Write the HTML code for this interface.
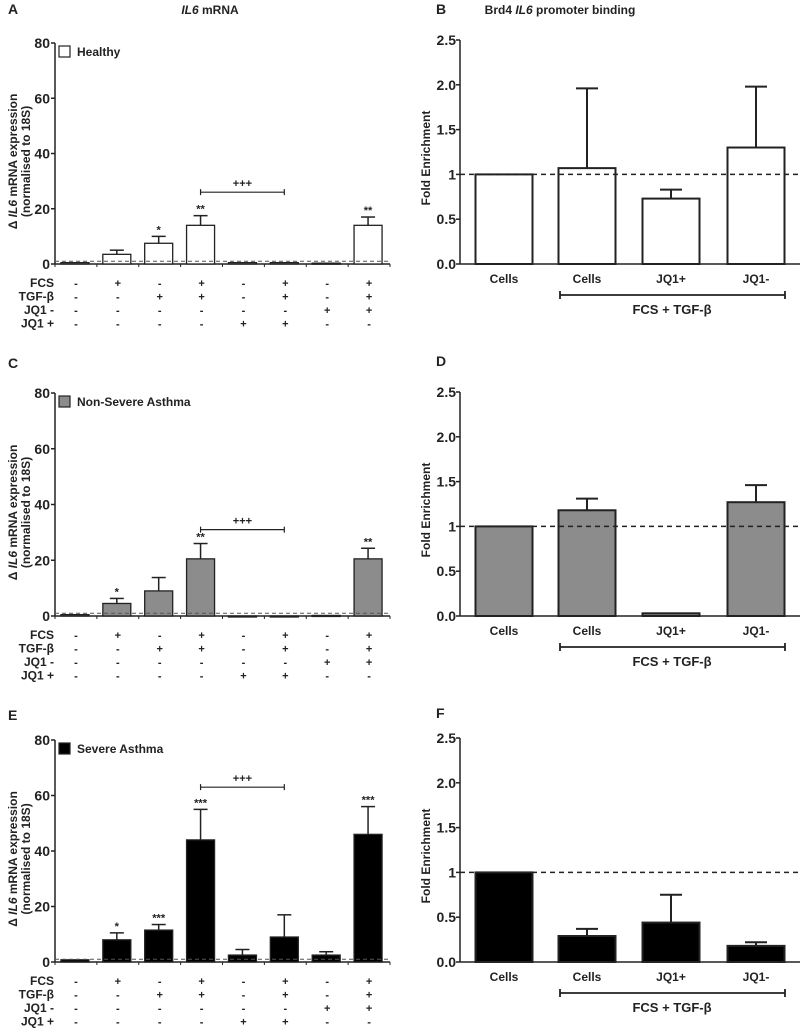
<!DOCTYPE html>
<html><head><meta charset="utf-8"><style>
html,body{margin:0;padding:0;background:#fff;}
svg{display:block;font-family:"Liberation Sans",Arial,sans-serif;}
text{font-weight:bold;fill:#222;}
</style></head><body>
<svg id="fig" width="800" height="1029" viewBox="0 0 800 1029" xmlns="http://www.w3.org/2000/svg"></svg>
<script>
// ---- data ----
const mrnaCategories = ["1","2","3","4","5","6","7","8"];
const healthyValues = [0.5, 3.5, 7.5, 14, 0.5, 0.5, 0.3, 14];
const healthyErrors = [0, 1.5, 2.5, 3.5, 0, 0, 0, 3];
const healthyStars = ["", "", "*", "**", "", "", "", "**"];
const nonSevereValues = [0.5, 4.5, 9, 20.5, 0, 0, 0.2, 20.5];
const nonSevereErrors = [0, 1.8, 4.8, 5.5, 0, 0, 0, 3.8];
const nonSevereStars = ["", "*", "", "**", "", "", "", "**"];
const severeValues = [0.8, 8, 11.5, 44, 2.5, 9, 2.5, 46];
const severeErrors = [0, 2.5, 2, 11, 2, 8, 1.2, 10];
const severeStars = ["", "*", "***", "***", "", "", "", "***"];
const bracketLevels = [26, 31, 63];
const mrnaTicks = [0, 20, 40, 60, 80];
const rowLabels = ["FCS", "TGF-β", "JQ1 -", "JQ1 +"];
const rowSigns = [
  ["-","+","-","+","-","+","-","+"],
  ["-","-","+","+","-","+","-","+"],
  ["-","-","-","-","-","-","+","+"],
  ["-","-","-","-","+","+","-","-"]
];
const chipCategories = ["Cells", "Cells", "JQ1+", "JQ1-"];
const chipHealthy = [1, 1.07, 0.73, 1.3];
const chipHealthyErr = [0, 0.89, 0.1, 0.68];
const chipNonSevere = [1, 1.18, 0.03, 1.27];
const chipNonSevereErr = [0, 0.13, 0, 0.19];
const chipSevere = [1, 0.29, 0.44, 0.18];
const chipSevereErr = [0, 0.08, 0.31, 0.04];
const chipTicks = [0, 0.5, 1, 1.5, 2, 2.5];
const chipTickLabels = ["0.0", "0.5", "1", "1.5", "2.0", "2.5"];

const NS = "http://www.w3.org/2000/svg";
const svg = document.getElementById("fig");
function el(tag, attrs, parent, txt) {
  const e = document.createElementNS(NS, tag);
  for (const k in attrs) e.setAttribute(k, attrs[k]);
  if (txt !== undefined) e.textContent = txt;
  (parent || svg).appendChild(e);
  return e;
}

[["A",8,14],["B",436,14],["C",8,368],["D",436,366],["E",8,720],["F",436,718]].forEach(p => {
  const t = el("text", {x:p[1], y:p[2], "font-size":"14"}, svg, p[0]);
  
  
});
const t1 = el("text", {x:210, y:14, "font-size":"12", "text-anchor":"middle", "font-weight":"normal"});


el("tspan", {"font-style":"italic"}, t1, "IL6");
el("tspan", {}, t1, " mRNA");
const t2 = el("text", {x:560, y:14, "font-size":"12", "text-anchor":"middle", "font-weight":"normal"});


el("tspan", {}, t2, "Brd4 ");
el("tspan", {"font-style":"italic"}, t2, "IL6");
el("tspan", {}, t2, " promoter binding");

function mrnaPanel(cfg) {
  const g = el("g", {});
  
  
  const x0 = 55, x1 = 390, yTop = cfg.yTop, yBot = cfg.yBot;
  const y = v => yBot - (v / 80) * (yBot - yTop);
  const step = (x1 - x0) / 8;
  const xc = i => x0 + step * (i + 0.5) - 1;
  const bw = 28;
  el("line", {x1:x0, y1:yTop, x2:x0, y2:yBot, stroke:"#222", "stroke-width":1.5}, g);
  el("line", {x1:x0, y1:yBot, x2:x1, y2:yBot, stroke:"#222", "stroke-width":1.5}, g);
  mrnaTicks.forEach(tv => {
    el("line", {x1:x0-4, y1:y(tv), x2:x0, y2:y(tv), stroke:"#222", "stroke-width":1.5}, g);
    const t = el("text", {x:x0-5, y:y(tv)+5, "font-size":"14", "text-anchor":"end"}, g, String(tv));
    
    
  });
  for (let i = 0; i <= 8; i++) {
    el("line", {x1:x0+step*i, y1:yBot, x2:x0+step*i, y2:yBot+3, stroke:"#222", "stroke-width":1}, g);
  }
  const yt = el("text", {transform:`translate(17,${(yTop+yBot)/2+8}) rotate(-90)`, "font-size":"12", "text-anchor":"middle"}, g);
  
  
  el("tspan", {}, yt, "Δ ");
  el("tspan", {"font-style":"italic"}, yt, "IL6");
  el("tspan", {}, yt, " mRNA expression");
  const yt2 = el("text", {transform:`translate(30,${(yTop+yBot)/2+8}) rotate(-90)`, "font-size":"12", "text-anchor":"middle"}, g, "(normalised to 18S)");
  
  
  const lb = el("rect", {x:59, y:yTop+3, width:11, height:11, fill:cfg.fill, stroke:"#222", "stroke-width":1.2}, g);
  
  
  const lt = el("text", {x:77, y:yTop+13, "font-size":"12"}, g, cfg.legend);
  
  
  cfg.values.forEach((v, i) => {
    const yv = y(v), e = cfg.errors[i];
    if (e > 0) {
      const ye = y(v + e);
      el("line", {x1:xc(i), y1:yv, x2:xc(i), y2:ye, stroke:"#222", "stroke-width":1.5}, g);
      el("line", {x1:xc(i)-7, y1:ye, x2:xc(i)+7, y2:ye, stroke:"#222", "stroke-width":1.5}, g);
    }
    const r = el("rect", {x:xc(i)-bw/2, y:yv, width:bw, height:Math.max(yBot-yv,1), fill:cfg.fill, stroke:"#222", "stroke-width":1.3}, g);
    
    
    if (cfg.stars[i]) {
      const s = el("text", {x:xc(i), y:y(v+e)-3, "font-size":"11", "text-anchor":"middle", "font-weight":"normal"}, g, cfg.stars[i]);
      
      
    }
  });
  el("line", {x1:x0, y1:y(1), x2:x1, y2:y(1), stroke:"#555", "stroke-width":1, "stroke-dasharray":"4,3"}, g);
  const by = y(cfg.bracket);
  const br = el("path", {d:`M${xc(3)},${by-3}V${by+3}M${xc(3)},${by}H${xc(5)}M${xc(5)},${by-3}V${by+3}`, stroke:"#222", "stroke-width":1.2, fill:"none"}, g);
  
  
  const bt = el("text", {x:(xc(3)+xc(5))/2, y:by-5, "font-size":"11", "text-anchor":"middle"}, g, "+++");
  
  
  rowLabels.forEach((lab, r) => {
    const ry = cfg.rowY + r * 13.5;
    const t = el("text", {x:54, y:ry+4, "font-size":"12", "text-anchor":"end"}, g, lab);
    
    
    rowSigns[r].forEach((s, i) => {
      const st = el("text", {x:xc(i)+1, y:ry+4, "font-size":"11", "text-anchor":"middle"}, g, s);
      
      
    });
  });
}

function chipPanel(cfg) {
  const g = el("g", {});
  
  
  const x0 = 460, x1 = 800, yTop = cfg.yTop, yBot = cfg.yBot;
  const y = v => yBot - (v / 2.5) * (yBot - yTop);
  const centers = [504, 587, 671, 756];
  const bw = 57;
  el("line", {x1:x0, y1:yTop, x2:x0, y2:yBot, stroke:"#222", "stroke-width":1.5}, g);
  el("line", {x1:x0, y1:yBot, x2:x1, y2:yBot, stroke:"#222", "stroke-width":1.5}, g);
  chipTicks.forEach((tv, k) => {
    el("line", {x1:x0-4, y1:y(tv), x2:x0, y2:y(tv), stroke:"#222", "stroke-width":1.5}, g);
    const t = el("text", {x:x0-4, y:y(tv)+5, "font-size":"14", "text-anchor":"end"}, g, chipTickLabels[k]);
    
    
  });
  const yt = el("text", {transform:`translate(430,${(yTop+yBot)/2+6}) rotate(-90)`, "font-size":"12", "text-anchor":"middle"}, g, "Fold Enrichment");
  
  
  cfg.values.forEach((v, i) => {
    const yv = y(v), e = cfg.errors[i];
    if (e > 0) {
      const ye = y(v + e);
      el("line", {x1:centers[i], y1:yv, x2:centers[i], y2:ye, stroke:"#222", "stroke-width":2}, g);
      el("line", {x1:centers[i]-11, y1:ye, x2:centers[i]+11, y2:ye, stroke:"#222", "stroke-width":2}, g);
    }
    const r = el("rect", {x:centers[i]-bw/2, y:yv, width:bw, height:Math.max(yBot-yv,1.5), fill:cfg.fill, stroke:"#222", "stroke-width":2}, g);
    
    
    const t = el("text", {x:centers[i], y:yBot+19, "font-size":"12", "text-anchor":"middle"}, g, chipCategories[i]);
    
    
  });
  el("line", {x1:x0, y1:y(1), x2:x1, y2:y(1), stroke:"#222", "stroke-width":1.5, "stroke-dasharray":"5,4"}, g);
  const by = yBot + 31;
  const br = el("path", {d:`M560,${by-4}V${by+4}M560,${by}H785M785,${by-4}V${by+4}`, stroke:"#222", "stroke-width":1.8, fill:"none"}, g);
  
  
  const bt = el("text", {x:672, y:by+19, "font-size":"13", "text-anchor":"middle", "font-weight":"normal"}, g, "FCS + TGF-β");
  
  
}

mrnaPanel({name:"panel-a-healthy", yTop:43, yBot:264, rowY:283, fill:"#fff", legend:"Healthy", values:healthyValues, errors:healthyErrors, stars:healthyStars, bracket:bracketLevels[0]});
mrnaPanel({name:"panel-c-non-severe", yTop:393, yBot:616, rowY:635, fill:"#8c8c8c", legend:"Non-Severe Asthma", values:nonSevereValues, errors:nonSevereErrors, stars:nonSevereStars, bracket:bracketLevels[1]});
mrnaPanel({name:"panel-e-severe", yTop:740, yBot:962, rowY:981, fill:"#000", legend:"Severe Asthma", values:severeValues, errors:severeErrors, stars:severeStars, bracket:bracketLevels[2]});
chipPanel({name:"panel-b-healthy-chip", yTop:40, yBot:264, fill:"#fff", values:chipHealthy, errors:chipHealthyErr});
chipPanel({name:"panel-d-non-severe-chip", yTop:392, yBot:616, fill:"#8c8c8c", values:chipNonSevere, errors:chipNonSevereErr});
chipPanel({name:"panel-f-severe-chip", yTop:738, yBot:962, fill:"#000", values:chipSevere, errors:chipSevereErr});
</script>
</body></html>
